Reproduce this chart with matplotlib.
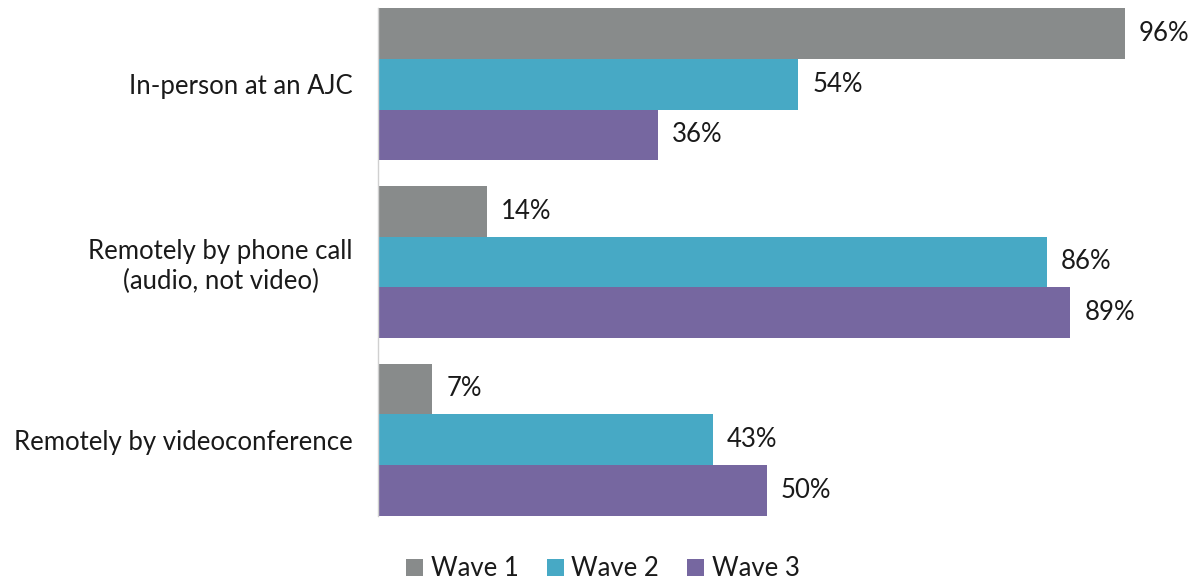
import numpy as np
import matplotlib.pyplot as plt
from matplotlib.patches import Patch

plt.rcParams.update({
    "font.family": ["Lato", "DejaVu Sans"],
    "font.size": 18.5,
})

categories = [
    "In-person at an AJC",
    "Remotely by phone call\n(audio, not video)",
    "Remotely by videoconference",
]
series_names = ["Wave 1", "Wave 2", "Wave 3"]
wave1 = [96, 14, 7]
wave2 = [54, 86, 43]
wave3 = [36, 89, 50]

colors = ["#888B8B", "#47A9C5", "#7667A0"]
text_col = "#1a1a1a"

fig = plt.figure(figsize=(11.98, 5.81), dpi=100)
ax = fig.add_axes([378 / 1198, 1 - 516 / 581, 778 / 1198, 508 / 581])

# three bars per group, groups spaced 3.5 bar-heights apart
group_pos = np.arange(len(categories)) * 3.5
bar_h = 1.0
for i, (vals, col) in enumerate(zip([wave1, wave2, wave3], colors)):
    y = group_pos + (i - 1) * bar_h
    bars = ax.barh(y, vals, height=bar_h, color=col, label=series_names[i])
    for b, v in zip(bars, vals):
        ax.text(b.get_width() + 1.8, b.get_y() + b.get_height() / 2, f"{v}%",
                ha="left", va="center", color=text_col)

ax.set_xlim(0, 100)
ax.set_ylim(group_pos[-1] + 1.5, group_pos[0] - 1.5)
ax.set_yticks(group_pos)
ax.set_yticklabels(categories, color=text_col)
for lbl in ax.get_yticklabels():
    lbl.set_multialignment("center")
ax.tick_params(axis="y", length=0, pad=18)
ax.set_xticks([])
for s in ["top", "right", "bottom"]:
    ax.spines[s].set_visible(False)
ax.spines["left"].set_color("#d0d0d0")
ax.spines["left"].set_linewidth(1.0)

handles = [Patch(facecolor=c, label=n) for c, n in zip(colors, series_names)]
fig.legend(handles=handles, loc="center", bbox_to_anchor=(603 / 1198, 1 - 569 / 581),
           ncol=3, frameon=False, handlelength=0.65, handleheight=0.65,
           handletextpad=0.3, columnspacing=1.1, labelcolor=text_col)

fig.savefig("out.png", dpi=100)
